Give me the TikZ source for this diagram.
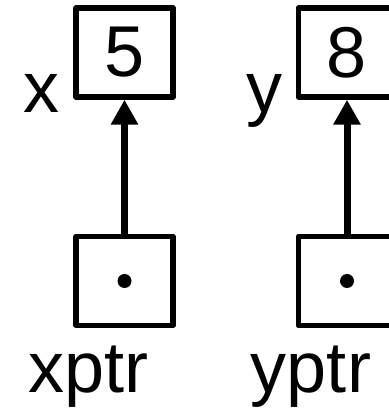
\documentclass[tikz,border=0pt]{standalone}
\usepackage{fontspec}
\setmainfont{Liberation Sans}
\usepackage{tikz}
\usetikzlibrary{arrows.meta}

\begin{document}
\begin{tikzpicture}[x = 1pt, y = 1pt,
        bigfont/.style = {font = \fontsize{72}{86}\selectfont},
        cellbox/.style = {bigfont, draw, line width = 5.5pt, line join = round,
            minimum width = 97pt, minimum height = 89pt, inner sep = 0pt},
        tagtext/.style = {bigfont, inner sep = 0pt},
        ptr/.style = {line width = 7pt, -{Triangle[length = 25pt, width = 26pt]}}]
            \useasboundingbox (0, 0) rectangle (388, 411);

            \node[cellbox] (xbox) at (124.5, 358.5) {5};
            \node[cellbox] (ybox) at (347, 358.5) {8};
            \node[cellbox] (xptrbox) at (124.5, 130) {};
            \node[cellbox] (yptrbox) at (347, 130) {};

            \node[tagtext, anchor = base east] (xtag)
                at ([xshift = -13.5pt, yshift = -13pt] xbox.south west) {x};
            \node[tagtext, anchor = base east] (ytag)
                at ([xshift = -13.5pt, yshift = -13pt] ybox.south west) {y};
            \node[tagtext, anchor = base west] (xptrtag)
                at ([xshift = -45pt, yshift = -64pt] xptrbox.south west) {xptr};
            \node[tagtext, anchor = base west] (yptrtag)
                at ([xshift = -45pt, yshift = -64pt] yptrbox.south west) {yptr};

            \fill (xptrbox.center) circle (7pt);
            \fill (yptrbox.center) circle (7pt);
            \draw[ptr] (xptrbox.north) -- (xbox.south);
            \draw[ptr] (yptrbox.north) -- (ybox.south);
        \end{tikzpicture}
\end{document}
